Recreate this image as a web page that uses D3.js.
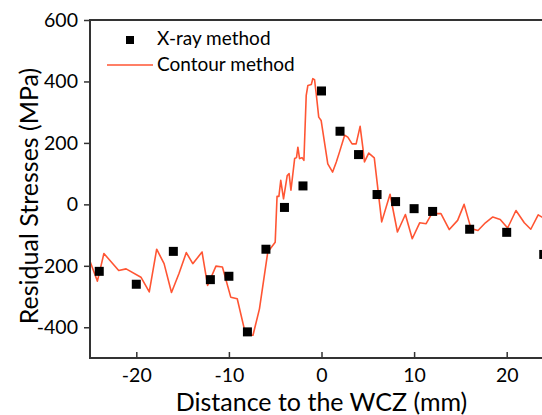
<!DOCTYPE html>
<html><head><meta charset="utf-8">
<script src="https://cdn.jsdelivr.net/npm/d3@7"></script>
<style>body{margin:0;background:#fff}svg{display:block}text{font-family:Lato,"Open Sans",sans-serif;fill:#000}</style>
</head><body>
<svg id="c" width="542" height="415"></svg>
<script>
const xrayX = [-24,-20,-16,-12,-10,-8,-6,-4,-2,0,2,4,6,8,10,12,16,20,24];
const xrayY = [-218,-260,-153,-245,-234,-415,-146,-10,60,369,238,162,32,9,-14,-23,-81,-91,-163];
const contourX = [-25.1,-24.2,-23.5,-21.9,-21.1,-19.5,-18.6,-17.8,-17.0,-16.2,-15.4,-14.6,-13.9,-12.9,-12.3,-11.4,-10.7,-9.8,-9.1,-8.3,-7.95,-7.4,-6.7,-5.8,-5.0,-4.8,-4.6,-4.4,-4.1,-3.7,-3.5,-3.3,-2.9,-2.7,-2.55,-2.37,-2.1,-1.9,-1.65,-1.47,-1.1,-0.94,-0.75,-0.57,-0.3,-0.04,0.68,1.2,1.6,1.94,2.5,2.84,3.3,3.74,4.17,4.46,4.64,5.1,5.7,6.5,7.4,8.2,9.06,9.8,10.6,11.3,12.0,12.4,12.9,13.8,14.7,15.4,16.15,16.9,17.7,18.5,19.3,20.1,21.0,21.9,22.6,23.4,24.0,25.0];
const contourY = [-177,-250,-160,-215,-210,-237,-285,-146,-193,-287,-226,-157,-193,-155,-264,-201,-204,-302,-307,-410,-426,-426,-340,-155,-123,26,26,78,18,94,100,46,149,152,186,149,152,143,355,387,390,409,406,360,284,273,132,105,138,170,225,219,197,197,254,186,138,167,151,-57,33,-90,-33,-112,-60,-63,-25,-30,-30,-82,-52,0,-79,-85,-60,-41,-49,-77,-20,-60,-81,-34,-45,-60];
const xTicks = [-20,-10,0,10,20];
const yTicks = [-400,-200,0,200,400,600];

const svg = d3.select("#c");
const L = 90, R = 553, T = 20, B = 358;
const x = d3.scaleLinear().domain([-25,25]).range([L,R]);
const y = d3.scaleLinear().domain([-500,600]).range([B,T]);

const axisCol = "#333";
svg.append("clipPath").attr("id","pc").append("rect").attr("x",L).attr("y",T).attr("width",R-L).attr("height",B-T);

svg.append("path")
  .datum(contourX.map((d,i)=>[d,contourY[i]]))
  .attr("clip-path","url(#pc)")
  .attr("fill","none").attr("stroke","#ff5533").attr("stroke-width",1.6).attr("stroke-linejoin","round")
  .attr("d", d3.line().x(d=>x(d[0])).y(d=>y(d[1])));

svg.append("g").selectAll("rect").data(xrayX.map((d,i)=>[d,xrayY[i]])).join("rect")
  .attr("x",d=>x(d[0])-4.5).attr("y",d=>y(d[1])-4.5).attr("width",9).attr("height",9).attr("fill","#000");

const gx = svg.append("g").attr("transform",`translate(0,${B})`)
  .call(d3.axisBottom(x).tickValues(xTicks).tickSize(-6).tickPadding(10.5).tickFormat(d3.format("d")));
const gy = svg.append("g").attr("transform",`translate(${L},0)`)
  .call(d3.axisLeft(y).tickValues(yTicks).tickSize(6).tickPadding(6).tickFormat(d3.format("d")));
[gx,gy].forEach(g=>{
  g.select(".domain").remove();
  g.selectAll(".tick line").attr("stroke",axisCol).attr("stroke-width",1.5);
  g.selectAll(".tick text").style("font-size","19.5px").attr("fill","#000").style("font-family","Lato");
});
gx.selectAll(".tick text").text(d=>d<0?"-"+Math.abs(d):d);
gy.selectAll(".tick text").text(d=>d<0?"-"+Math.abs(d):d);

svg.append("path").attr("fill","none").attr("stroke",axisCol).attr("stroke-width",2)
  .attr("d",`M${R},${B}H${L}V${T}H${R}`);

svg.append("text").attr("x",(L+R)/2).attr("y",410.5).attr("text-anchor","middle")
  .style("font-size","25px").text("Distance to the WCZ (mm)");
svg.append("text").attr("transform",`translate(38,196) rotate(-90)`).attr("text-anchor","middle")
  .style("font-size","25px").text("Residual Stresses (MPa)");

svg.append("rect").attr("x",126).attr("y",36).attr("width",8).attr("height",8).attr("fill","#000");
svg.append("text").attr("x",157).attr("y",45).style("font-size","19px").text("X-ray method");
svg.append("line").attr("x1",107).attr("x2",153).attr("y1",65).attr("y2",65).attr("stroke","#ff5533").attr("stroke-width",1.6);
svg.append("text").attr("x",157).attr("y",71).style("font-size","19px").text("Contour method");
</script>
</body></html>
